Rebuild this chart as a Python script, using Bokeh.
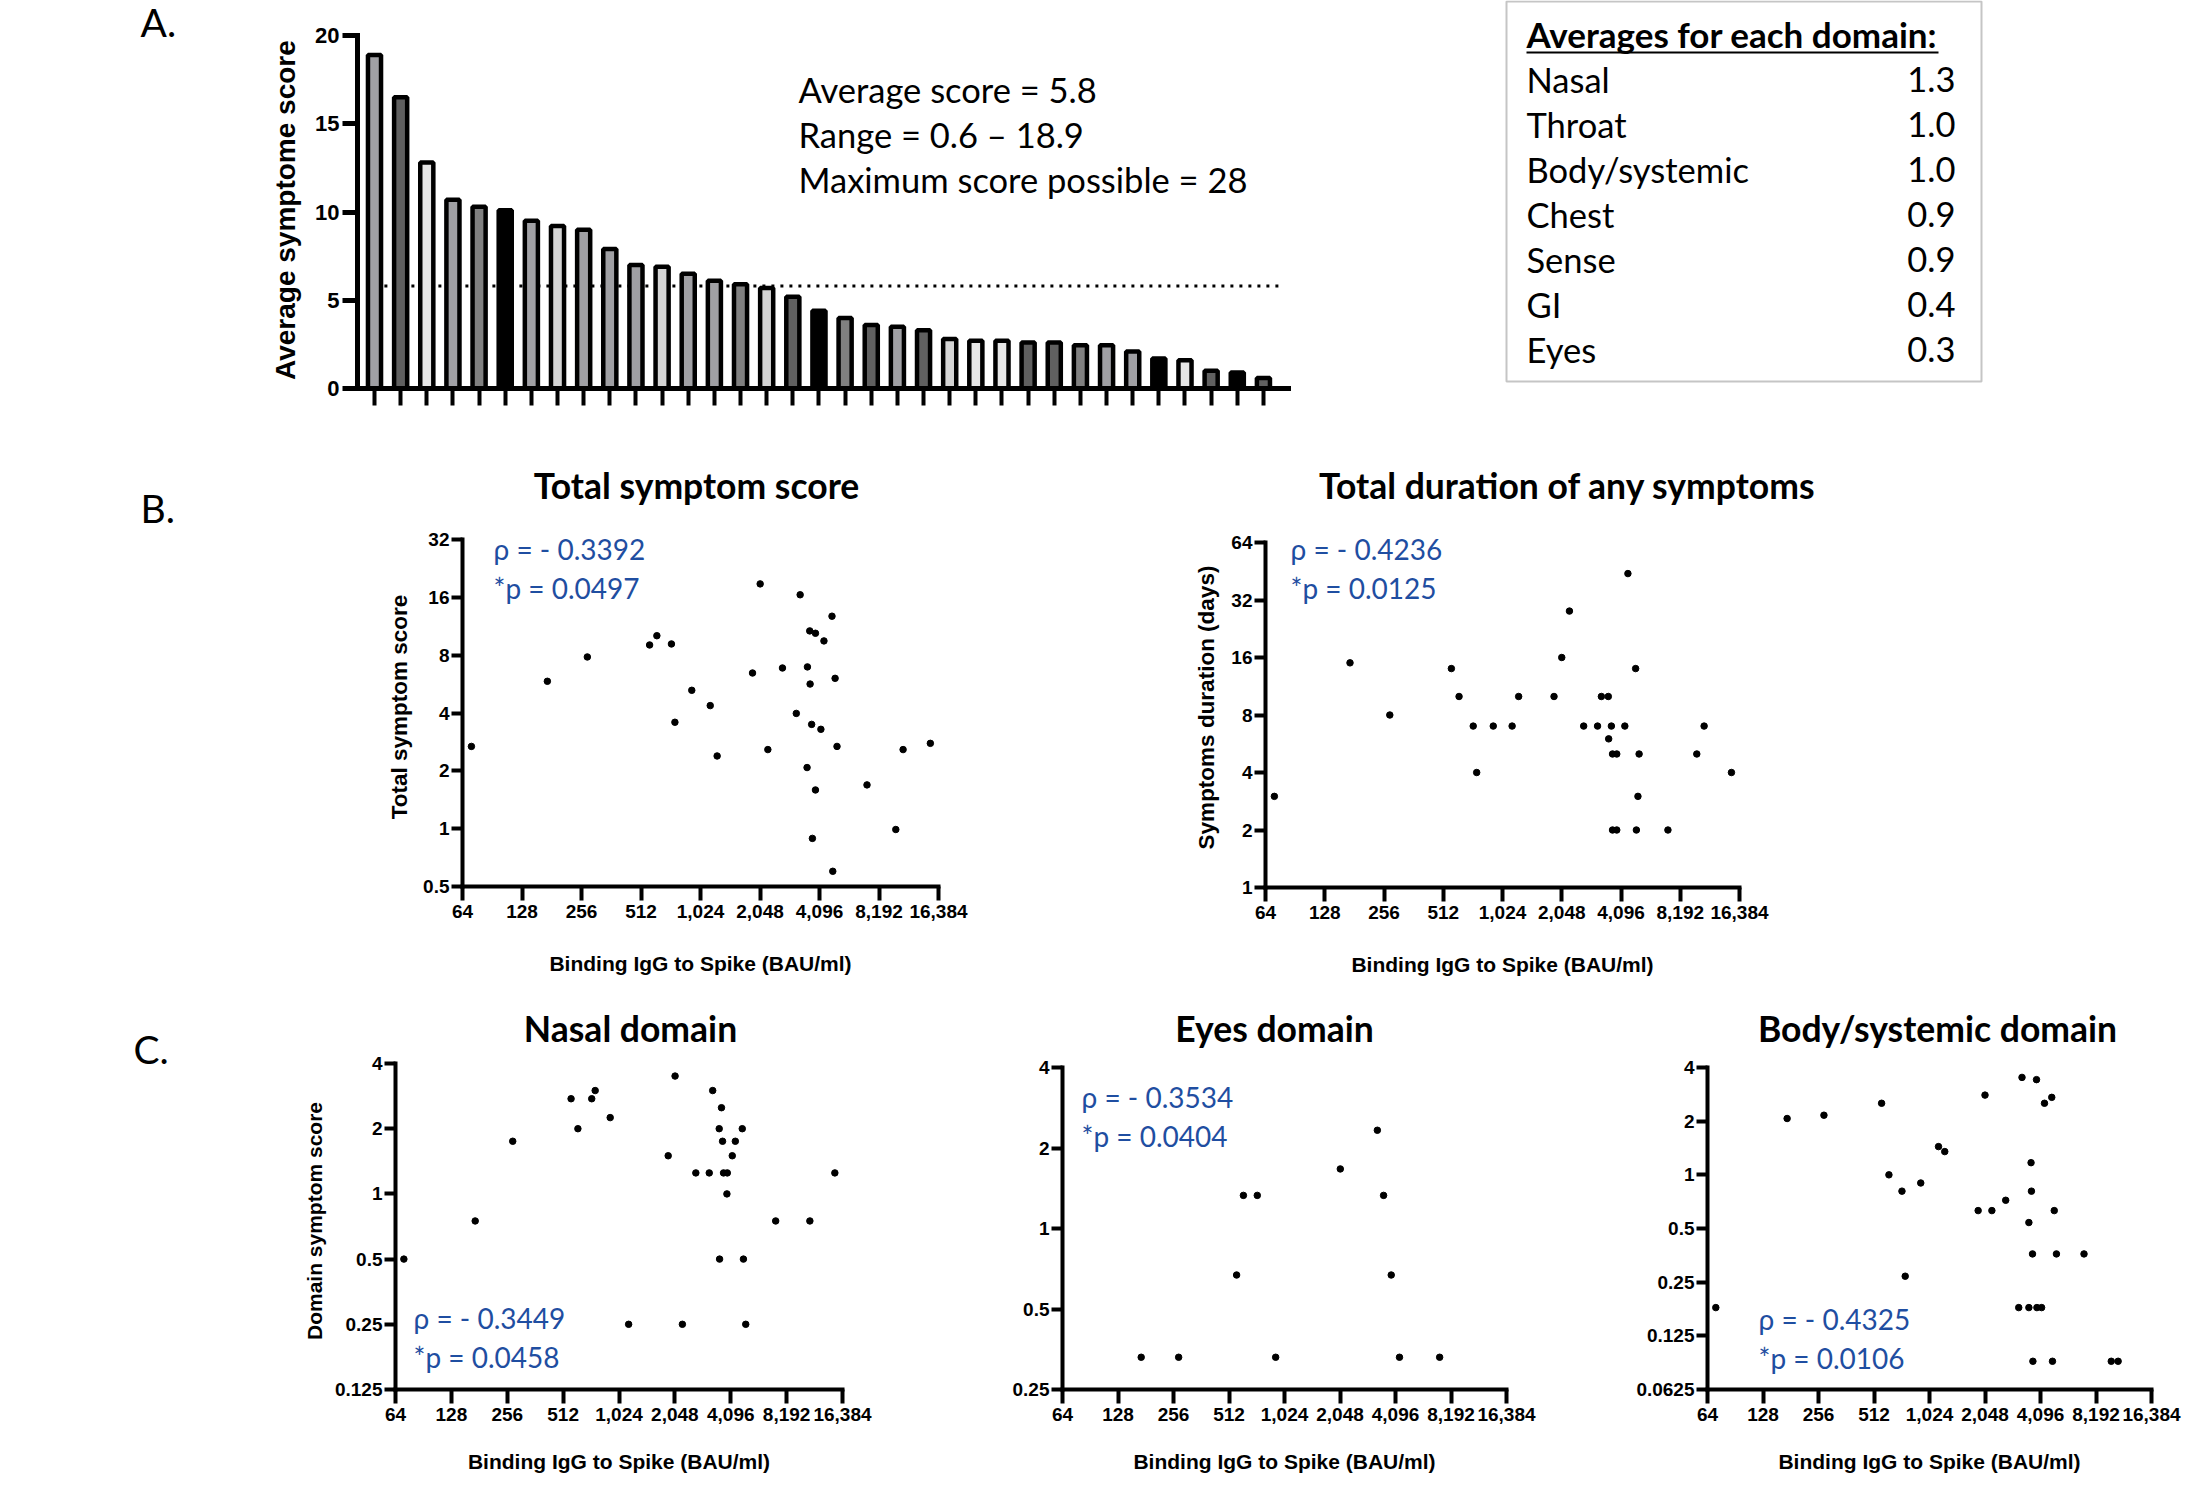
import numpy as np
from bokeh.plotting import figure
from bokeh.layouts import row, column
from bokeh.models import (Range1d, FixedTicker, NumeralTickFormatter, PrintfTickFormatter,
                          Label, BoxAnnotation, ColumnDataSource)
from bokeh.embed import file_html
from bokeh.resources import INLINE

# ---------------- data ----------------
# Panel A: average symptom score per participant (sorted)
bar_scores = [18.9, 16.5, 12.8, 10.7, 10.3, 10.1, 9.5, 9.2, 9.0, 7.9, 7.0, 6.9, 6.5, 6.1,
              5.9, 5.7, 5.2, 4.4, 4.0, 3.6, 3.5, 3.3, 2.8, 2.7, 2.7, 2.6, 2.6, 2.45, 2.45,
              2.1, 1.7, 1.6, 1.0, 0.9, 0.6]
bar_fill = ["#a0a0a4", "#606060", "#e6e6e6", "#a0a0a4", "#808080", "#000000", "#a0a0a4",
            "#d4d4d4", "#a0a0a4", "#a0a0a4", "#a0a0a4", "#d4d4d4", "#a0a0a4", "#a0a0a4",
            "#808080", "#d4d4d4", "#606060", "#000000", "#808080", "#606060", "#a0a0a4",
            "#606060", "#d4d4d4", "#e6e6e6", "#e6e6e6", "#606060", "#606060", "#808080",
            "#a0a0a4", "#a0a0a4", "#000000", "#e6e6e6", "#606060", "#000000", "#606060"]
score_y_ticks = [0, 5, 10, 15, 20]
stats_lines = ["Average score = 5.8", "Range = 0.6 \u2013 18.9", "Maximum score possible = 28"]

domain_names = ["Nasal", "Throat", "Body/systemic", "Chest", "Sense", "GI", "Eyes"]
domain_avgs = [1.3, 1.0, 1.0, 0.9, 0.9, 0.4, 0.3]

# Binding IgG axis ticks
igg_ticks = [64, 128, 256, 512, 1024, 2048, 4096, 8192, 16384]

# Panel B left: total symptom score
igg_total = [71, 172, 274, 566, 616, 730, 760, 925, 1147, 1243, 1877, 2052, 2244, 2661, 3126,
             3269, 3559, 3543, 3656, 3671, 3738, 3771, 3908, 3908, 4163, 4314, 4738, 4781,
             4912, 5023, 7124, 9963, 10846, 14899]
score_total = [2.68, 5.85, 7.83, 9.04, 10.1, 9.15, 3.58, 5.25, 4.37, 2.39, 6.46, 18.8, 2.58,
               6.86, 3.98, 16.5, 6.95, 2.08, 10.7, 5.66, 3.49, 0.89, 10.4, 1.59, 3.29, 9.49,
               12.76, 0.60, 6.06, 2.68, 1.69, 0.99, 2.58, 2.78]
total_y_ticks = [0.5, 1, 2, 4, 8, 16, 32]

# Panel B right: duration of symptoms (days)
igg_dur = [71, 172, 274, 563, 616, 727, 757, 919, 1146, 1237, 1871, 2048, 2241, 2647, 3113,
           3256, 3531, 3546, 3660, 3709, 3898, 3709, 3898, 4284, 4441, 4861, 5062, 4904, 4994,
           7093, 9941, 10830, 14910]
dur_days = [3, 15, 8, 14, 10, 7, 4, 7, 7, 10, 10, 16, 28, 7, 7, 10, 10, 6, 7, 5, 5, 2, 2, 7,
            44, 14, 5, 2, 3, 2, 5, 7, 4]
dur_y_ticks = [1, 2, 4, 8, 16, 32, 64]

# Panel C: domains
igg_nasal = [71, 172, 274, 565, 615, 730, 762, 918, 1154, 1885, 2053, 2248, 2656, 3137, 3274,
             3550, 3566, 3651, 3700, 3745, 3925, 3906, 4174, 4336, 4725, 4794, 4933, 7152,
             10930, 14900]
nasal_score = [0.5, 0.75, 1.75, 2.75, 2, 2.75, 3, 2.25, 0.25, 1.5, 3.5, 0.25, 1.25, 1.25, 3,
               2, 0.5, 2.5, 1.75, 1.25, 1.25, 1, 1.5, 1.75, 2, 0.5, 0.25, 0.75, 0.75, 1.25]
nasal_y_ticks = [0.125, 0.25, 0.5, 1, 2, 4]

igg_eyes = [171, 273, 563, 613, 729, 917, 2056, 3265, 3530, 3883, 4305, 7109]
eyes_score = [0.33, 0.33, 0.67, 1.33, 1.33, 0.33, 1.67, 2.33, 1.33, 0.67, 0.33, 0.33]
eyes_y_ticks = [0.25, 0.5, 1, 2, 4]

igg_body = [71, 173, 274, 563, 617, 726, 756, 918, 1146, 1239, 1880, 2048, 2232, 2652, 3121,
            3251, 3543, 3543, 3641, 3658, 3707, 3725, 3897, 3916, 4153, 4305, 4714, 4757,
            4864, 4999, 7053, 9913, 10800]
body_score = [0.18, 2.07, 2.16, 2.52, 1.0, 0.81, 0.27, 0.90, 1.44, 1.35, 0.63, 2.80, 0.63,
              0.72, 0.18, 3.52, 0.18, 0.54, 1.17, 0.81, 0.36, 0.09, 3.42, 0.18, 0.18, 2.52,
              2.72, 0.09, 0.63, 0.36, 0.36, 0.09, 0.09]
body_y_ticks = [0.0625, 0.125, 0.25, 0.5, 1, 2, 4]

# ---------------- style ----------------
BLUE = "#1f4ea1"
AX_FONT = "Liberation Sans"
TXT_FONT = "Lato"
PAGE_W, PAGE_H = 2186, 1484
MID = 0.38   # baseline -> text-box centre offset (fraction of font size)
NBSP = "\u00a0"


def base_fig(**kw):
    p = figure(toolbar_location=None, output_backend="svg", outline_line_color=None,
               background_fill_color="white", border_fill_color="white", title=None, **kw)
    return p


def blank_fig(x0, x1, y0, y1):
    # annotation-only canvas in page pixel coordinates (y downwards)
    p = base_fig(frame_width=x1 - x0, frame_height=y1 - y0,
                 x_range=Range1d(x0, x1), y_range=Range1d(y1, y0),
                 x_axis_location=None, y_axis_location=None,
                 min_border_left=0, min_border_right=0, min_border_top=0, min_border_bottom=0)
    p.grid.visible = False
    return p


def style_axis(ax, tick_size, label_size, line_w, tick_out, tick_standoff, label_standoff):
    ax.axis_line_width = line_w
    ax.axis_line_color = "black"
    ax.axis_line_cap = "square"
    ax.major_tick_line_width = line_w
    ax.major_tick_line_color = "black"
    ax.major_tick_out = tick_out
    ax.major_tick_in = 0
    ax.minor_tick_line_color = None
    ax.major_label_text_font = AX_FONT
    ax.major_label_text_font_style = "bold"
    ax.major_label_text_font_size = f"{tick_size}px"
    ax.major_label_text_color = "black"
    ax.major_label_standoff = tick_standoff
    ax.axis_label_text_font = AX_FONT
    ax.axis_label_text_font_style = "bold"
    ax.axis_label_text_font_size = f"{label_size}px"
    ax.axis_label_text_color = "black"
    ax.axis_label_standoff = label_standoff


def text_label(p, to_data, px, baseline, text, size, color="black", bold=False, align="left"):
    # place text so that its baseline sits at page pixel row `baseline`
    x, y = to_data(px, baseline - MID * size)
    p.add_layout(Label(x=x, y=y, text=text, text_font=TXT_FONT, text_font_size=f"{size}px",
                       text_font_style="bold" if bold else "normal", text_color=color,
                       text_align=align, text_baseline="middle"))


def ident(px, py):
    return px, py


# ---------------- panel labels column ----------------
lab = blank_fig(0, 220, 0, PAGE_H)
text_label(lab, ident, 140, 36, "A.", 39)
text_label(lab, ident, 140, 522, "B.", 39)
text_label(lab, ident, 133, 1063, "C.", 39)

# ---------------- panel A (bars + summary box in one frame) ----------------
A_cell = (220, PAGE_W, 0, 448)
A_frame = (357, 0, 1990, 388)       # frame in page px
bar_px0, bar_step = 374.0, 26.145    # px of bar 1 and bar spacing
y_px0, y_step = 388.0, 17.65         # px of score 0 and px per score unit
L, T, R, B = A_frame
ax_lo = 1 + (L - bar_px0) / bar_step
ax_hi = 1 + (R - bar_px0) / bar_step
ay_hi = (y_px0 - T) / y_step
bar_idx = list(range(1, len(bar_scores) + 1))
axis_x_end = bar_idx[-1] + (1288 - (bar_px0 + bar_step * (len(bar_scores) - 1))) / bar_step

pA = base_fig(frame_width=R - L, frame_height=B - T,
              x_range=Range1d(ax_lo, ax_hi), y_range=Range1d(score_y_ticks[0], ay_hi),
              min_border_left=L - A_cell[0], min_border_right=A_cell[1] - R,
              min_border_top=T - A_cell[2], min_border_bottom=A_cell[3] - B)
pA.grid.visible = False


def lin_at(px, py):
    return 1 + (px - bar_px0) / bar_step, (y_px0 - py) / y_step


mean_score = float(np.mean(bar_scores))
pA.segment(x0=[bar_idx[0] - 0.31], y0=[mean_score], x1=[bar_idx[-1] + 0.73], y1=[mean_score],
           line_color="black", line_width=3, line_dash="3 6")
srcA = ColumnDataSource(dict(x=bar_idx, top=bar_scores, fill=bar_fill))
pA.vbar(x="x", top="top", width=0.5, bottom=0, source=srcA, fill_color="fill",
        line_color="black", line_width=4.5)
pA.yaxis.ticker = FixedTicker(ticks=score_y_ticks)
pA.xaxis.ticker = FixedTicker(ticks=[], minor_ticks=bar_idx)
style_axis(pA.yaxis[0], 22, 28, 5, 15, 3, 11)
style_axis(pA.xaxis[0], 22, 27, 5, 17, 3, 5)
pA.xaxis.minor_tick_line_color = "black"
pA.xaxis.minor_tick_line_width = 4
pA.xaxis.minor_tick_out = 17
pA.xaxis.minor_tick_in = 0
pA.xaxis.bounds = (ax_lo, axis_x_end)
pA.yaxis.bounds = (score_y_ticks[0], score_y_ticks[-1])
# the frame reaches above the y axis (for the summary box); trailing no-break spaces
# move the centred, rotated label down to the middle of the axis line
pA.yaxis.axis_label = "Average symptome score" + NBSP * 4

for i, line in enumerate(stats_lines):
    text_label(pA, lin_at, 798, 102 + 45 * i, line, 34.5)

# summary box
bx0, by0 = lin_at(1506, 1)
bx1, by1 = lin_at(1981, 381)
pA.add_layout(BoxAnnotation(left=bx0, right=bx1, top=by0, bottom=by1, fill_color=None,
                            line_color="#404040", line_width=2))
text_label(pA, lin_at, 1526, 47, "Averages for each domain:", 35, bold=True)
ux0, uy = lin_at(1526, 52)
ux1, _ = lin_at(1938, 52)
pA.segment(x0=[ux0], y0=[uy], x1=[ux1], y1=[uy], line_color="black", line_width=2)
for i, (nm, v) in enumerate(zip(domain_names, domain_avgs)):
    text_label(pA, lin_at, 1526, 92 + 45 * i, nm, 34.5)
    text_label(pA, lin_at, 1955, 92 + 45 * i, f"{v:.1f}", 34.5, align="right")

# ---------------- title strips ----------------
titleB = blank_fig(220, PAGE_W, 448, 527)
text_label(titleB, ident, 696, 498, "Total symptom score", 35.5, bold=True, align="center")
text_label(titleB, ident, 1567, 498, "Total duration of any symptoms", 35.5, bold=True,
           align="center")
titleC = blank_fig(220, PAGE_W, 1005, 1052)
text_label(titleC, ident, 630, 1041, "Nasal domain", 35.5, bold=True, align="center")
text_label(titleC, ident, 1274, 1041, "Eyes domain", 35.5, bold=True, align="center")
text_label(titleC, ident, 1937, 1041, "Body/systemic domain", 35.5, bold=True, align="center")


# ---------------- log scatter panels ----------------
def log_panel(cell, axis_box, xs, ys, yticks, ylabel, ylab_size, stats, stats_pos,
              ylab_standoff, xlab_standoff):
    """axis_box = page px of (x=64, y=ytop, x=16384, y=ybottom); the frame starts a little
    above the y axis top (cell top) so the statistics text is not clipped."""
    x0, x1, y0, y1 = cell
    L, T, R, B = axis_box
    xlo, xhi = igg_ticks[0], igg_ticks[-1]
    ylo, yhi = yticks[0], yticks[-1]

    def at(px, py):
        fx = (px - L) / (R - L)
        fy = (B - py) / (B - T)
        return xlo * (xhi / xlo) ** fx, ylo * (yhi / ylo) ** fy

    _, ymax = at(R, y0)
    p = base_fig(frame_width=R - L, frame_height=B - y0,
                 x_axis_type="log", y_axis_type="log",
                 x_range=Range1d(xlo, xhi), y_range=Range1d(ylo, ymax),
                 min_border_left=L - x0, min_border_right=x1 - R,
                 min_border_top=0, min_border_bottom=y1 - B)
    p.grid.visible = False
    p.scatter(x=xs, y=ys, size=6.5, color="black")
    p.xaxis.ticker = FixedTicker(ticks=igg_ticks)
    p.yaxis.ticker = FixedTicker(ticks=yticks)
    p.xaxis.formatter = NumeralTickFormatter(format="0,0")
    p.yaxis.formatter = PrintfTickFormatter(format="%g")
    p.yaxis.bounds = (ylo, yhi)
    style_axis(p.xaxis[0], 19, 21, 4, 14, 4, xlab_standoff)
    style_axis(p.yaxis[0], 19, ylab_size, 4, 11, 2, ylab_standoff)
    p.xaxis.axis_label = "Binding IgG to Spike (BAU/ml)"
    if ylabel:
        p.yaxis.axis_label = ylabel

    sx, sy = stats_pos
    for i, s in enumerate(stats):
        text_label(p, at, sx, sy + 39 * i, s, 28, color=BLUE)
    return p


pB1 = log_panel((220, 1060, 527, 1005), (462, 539, 938, 886), igg_total, score_total,
                total_y_ticks, "Total symptom score", 22.5,
                ["\u03c1 = - 0.3392", "*p = 0.0497"], (493, 559), 8, 31)
pB2 = log_panel((1060, 1780, 527, 1005), (1265, 542, 1739, 887), igg_dur, dur_days,
                dur_y_ticks, "Symptoms duration (days)", 22.5,
                ["\u03c1 = - 0.4236", "*p = 0.0125"], (1290, 559), 9, 31)
pN = log_panel((220, 960, 1052, PAGE_H), (395, 1063, 842, 1389), igg_nasal, nasal_score,
               nasal_y_ticks, "Domain symptom score", 21,
               ["\u03c1 = - 0.3449", "*p = 0.0458"], (413, 1328), 6, 26)
pE = log_panel((960, 1600, 1052, PAGE_H), (1062, 1067, 1506, 1389), igg_eyes, eyes_score,
               eyes_y_ticks, None, 21,
               ["\u03c1 = - 0.3534", "*p = 0.0404"], (1081, 1107), 6, 26)
pBody = log_panel((1600, PAGE_W, 1052, PAGE_H), (1707, 1067, 2151, 1389), igg_body,
                  body_score, body_y_ticks, None, 21,
                  ["\u03c1 = - 0.4325", "*p = 0.0106"], (1758, 1329), 6, 26)

layout = row(lab, column(pA, row(titleB), row(pB1, pB2), row(titleC), row(pN, pE, pBody)))

open("out.html", "w").write(file_html(layout, INLINE))
